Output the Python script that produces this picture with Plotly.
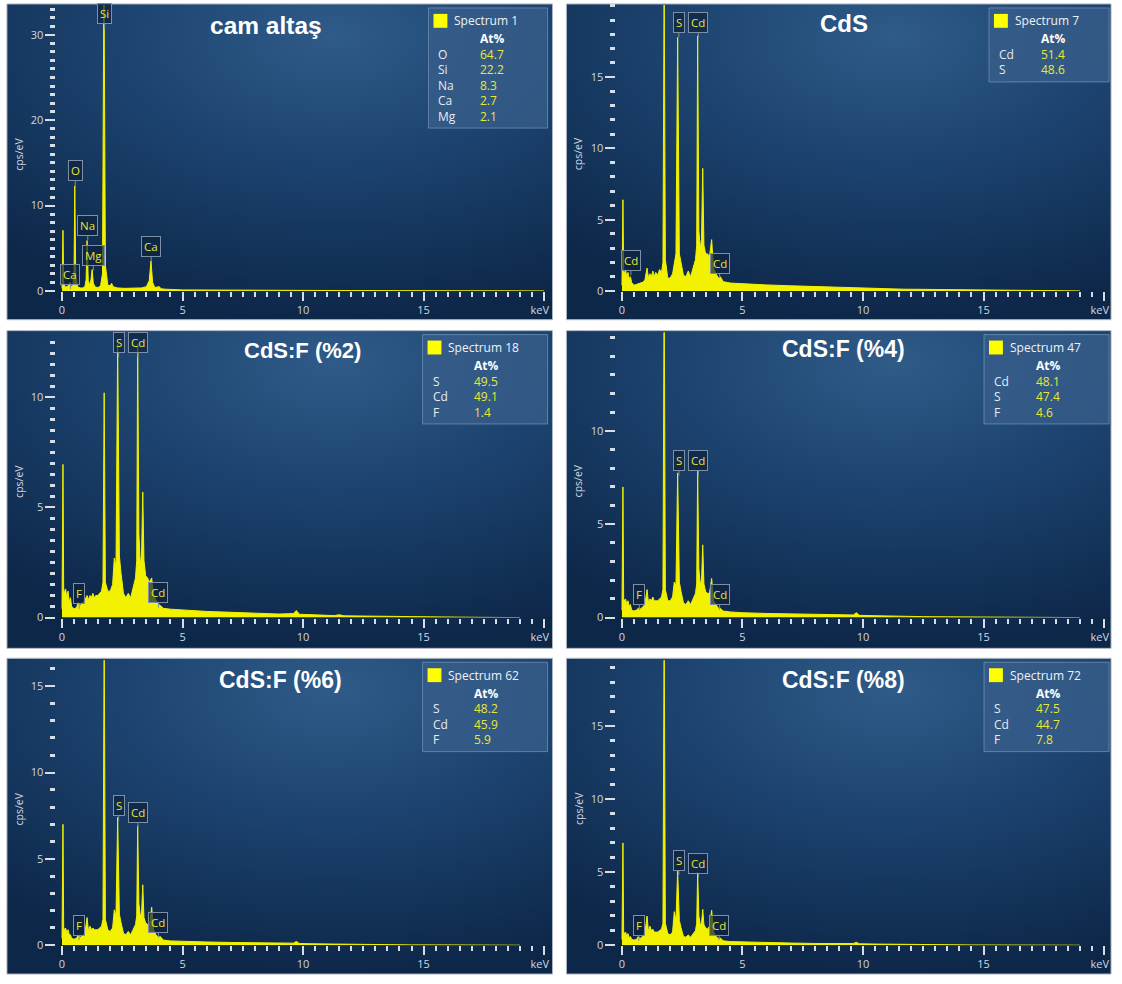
import base64
import plotly.graph_objects as go

W, H = 1122, 984

# ---------------- data ----------------
E_GLASS = [0.0, 0.04, 0.07, 0.12, 0.2, 0.28, 0.33, 0.38, 0.45, 0.5,
           0.53, 0.57, 0.65, 0.75, 0.85, 0.95, 1.0, 1.04, 1.09, 1.15,
           1.2, 1.25, 1.3, 1.38, 1.5, 1.6, 1.68, 1.74, 1.8, 1.9,
           2.0, 2.06, 2.12, 2.3, 2.6, 3.0, 3.3, 3.5, 3.62, 3.69,
           3.76, 3.85, 4.0, 4.04, 4.1, 4.3, 5.0, 6.0, 8.0, 10.0,
           12.0, 14.0, 16.0, 18.0, 20.0]
I_GLASS = [0.3, 7.1, 1.0, 0.5, 0.5, 0.7, 1.0, 0.5, 0.6, 2.0,
           12.3, 1.8, 0.5, 0.35, 0.35, 0.5, 1.3, 5.9, 1.2, 0.7,
           1.3, 2.5, 0.9, 0.45, 0.4, 0.6, 2.0, 38.0, 3.0, 0.7,
           0.6, 0.9, 0.5, 0.35, 0.3, 0.3, 0.35, 0.5, 1.2, 3.5,
           1.0, 0.4, 0.45, 0.5, 0.25, 0.2, 0.12, 0.1, 0.07, 0.05,
           0.04, 0.03, 0.02, 0.01, 0.0]

E_CDS = [0.0, 0.04, 0.07, 0.1, 0.15, 0.2, 0.25, 0.3, 0.35, 0.4,
         0.5, 0.6, 0.68, 0.75, 0.85, 0.95, 1.04, 1.1, 1.16, 1.22,
         1.28, 1.34, 1.4, 1.48, 1.56, 1.64, 1.7, 1.75, 1.8, 1.9,
         2.0, 2.1, 2.17, 2.24, 2.31, 2.38, 2.45, 2.55, 2.65, 2.75,
         2.85, 2.95, 3.05, 3.1, 3.14, 3.19, 3.25, 3.3, 3.35, 3.4,
         3.47, 3.55, 3.63, 3.72, 3.8, 3.9, 4.0, 4.08, 4.2, 4.5,
         5.0, 6.0, 7.0, 8.0, 9.0, 9.6, 9.72, 9.85, 10.5, 11.3,
         11.5, 11.7, 12.5, 13.5, 14.5, 15.5, 16.5, 17.5, 18.2, 19.0]
I_CDS = [0.4, 6.4, 1.4, 1.2, 1.5, 0.9, 1.3, 0.8, 1.0, 0.6,
         0.4, 0.45, 0.5, 0.55, 0.6, 0.75, 1.6, 0.9, 1.2, 1.0,
         1.4, 1.0, 1.3, 1.1, 1.5, 1.3, 2.0, 22.0, 2.2, 0.9,
         0.9, 1.2, 2.0, 2.6, 17.8, 2.6, 2.0, 1.1, 1.0, 1.4,
         1.0, 1.6, 2.2, 3.2, 17.9, 4.2, 3.0, 3.6, 8.6, 3.2,
         2.6, 2.6, 2.4, 3.6, 1.6, 1.2, 0.9, 1.0, 0.65, 0.55,
         0.5, 0.42, 0.36, 0.3, 0.25, 0.22, 0.22, 0.2, 0.18, 0.14,
         0.13, 0.12, 0.11, 0.09, 0.07, 0.05, 0.04, 0.02, 0.01, 0.0]
I_F2 = [0.4, 6.95, 1.3, 1.1, 1.3, 0.9, 1.2, 0.7, 0.9, 0.5,
        0.4, 0.45, 0.7, 0.55, 0.65, 0.8, 1.0, 0.8, 1.0, 0.9,
        1.1, 0.9, 1.0, 1.0, 1.1, 1.2, 1.6, 10.2, 1.6, 1.2,
        1.2, 1.5, 2.7, 2.3, 12.4, 2.8, 2.0, 1.1, 0.9, 1.1,
        0.9, 1.3, 1.8, 2.6, 12.4, 3.8, 2.4, 2.8, 5.7, 2.6,
        1.9, 1.8, 1.6, 1.8, 1.0, 0.8, 0.6, 0.55, 0.42, 0.38,
        0.34, 0.28, 0.24, 0.2, 0.16, 0.18, 0.32, 0.15, 0.12, 0.09,
        0.13, 0.08, 0.07, 0.05, 0.04, 0.03, 0.02, 0.01, 0.005, 0.0]
I_F4 = [0.4, 7.0, 1.0, 0.9, 1.0, 0.7, 0.9, 0.6, 0.7, 0.4,
        0.35, 0.4, 0.5, 0.45, 0.55, 0.7, 1.5, 0.8, 1.0, 0.9,
        1.1, 0.9, 0.9, 0.9, 1.0, 1.1, 1.5, 18.0, 1.5, 0.9,
        0.9, 1.1, 1.9, 1.7, 7.75, 1.9, 1.4, 0.8, 0.7, 0.9,
        0.7, 1.0, 1.3, 1.8, 7.9, 2.6, 1.8, 2.0, 3.9, 1.8,
        1.4, 1.3, 1.3, 2.1, 0.9, 0.7, 0.5, 0.5, 0.35, 0.3,
        0.26, 0.22, 0.19, 0.16, 0.13, 0.14, 0.26, 0.12, 0.1, 0.07,
        0.1, 0.06, 0.05, 0.04, 0.03, 0.02, 0.015, 0.01, 0.005, 0.0]
I_F6 = [0.4, 7.0, 1.0, 0.9, 1.0, 0.7, 0.9, 0.6, 0.6, 0.4,
        0.35, 0.4, 0.6, 0.45, 0.55, 0.7, 1.6, 0.8, 1.1, 0.9,
        1.0, 0.9, 0.9, 0.9, 1.0, 1.1, 1.5, 18.0, 1.5, 0.9,
        0.8, 1.0, 2.05, 1.7, 7.4, 1.8, 1.3, 0.7, 0.6, 0.8,
        0.6, 0.9, 1.2, 1.7, 6.9, 2.4, 1.7, 1.8, 3.5, 1.6,
        1.3, 1.2, 1.2, 2.2, 0.9, 0.6, 0.45, 0.5, 0.3, 0.25,
        0.22, 0.19, 0.16, 0.13, 0.11, 0.12, 0.22, 0.1, 0.08, 0.06,
        0.09, 0.05, 0.04, 0.03, 0.02, 0.02, 0.01, 0.01, 0.005, 0.0]
I_F8 = [0.4, 7.0, 0.9, 0.8, 0.9, 0.6, 0.8, 0.5, 0.6, 0.4,
        0.35, 0.4, 0.6, 0.45, 0.6, 0.8, 2.0, 0.9, 1.3, 1.0,
        1.1, 0.9, 0.9, 0.9, 1.0, 1.1, 1.5, 22.0, 1.5, 0.8,
        0.7, 0.9, 2.3, 1.7, 5.1, 1.7, 1.2, 0.6, 0.55, 0.7,
        0.55, 0.8, 1.0, 1.5, 5.0, 2.0, 1.4, 1.5, 2.45, 1.4,
        1.2, 1.1, 1.3, 2.4, 0.9, 0.6, 0.45, 0.5, 0.3, 0.25,
        0.22, 0.18, 0.15, 0.12, 0.1, 0.12, 0.2, 0.1, 0.08, 0.06,
        0.08, 0.05, 0.04, 0.03, 0.02, 0.015, 0.01, 0.01, 0.005, 0.0]

SPEC_X = [E_GLASS, E_CDS, E_CDS, E_CDS, E_CDS, E_CDS]
SPEC_Y = [I_GLASS, I_CDS, I_F2, I_F4, I_F6, I_F8]

TITLES = ["cam altaş", "CdS", "CdS:F (%2)", "CdS:F (%4)", "CdS:F (%6)", "CdS:F (%8)"]
SPECTRA = ["Spectrum 1", "Spectrum 7", "Spectrum 18", "Spectrum 47", "Spectrum 62", "Spectrum 72"]
ELEMENTS = [["O", "Si", "Na", "Ca", "Mg"], ["Cd", "S"], ["S", "Cd", "F"],
            ["Cd", "S", "F"], ["S", "Cd", "F"], ["S", "Cd", "F"]]
AT_PCT = [["64.7", "22.2", "8.3", "2.7", "2.1"], ["51.4", "48.6"], ["49.5", "49.1", "1.4"],
          ["48.1", "47.4", "4.6"], ["48.2", "45.9", "5.9"], ["47.5", "44.7", "7.8"]]

PEAK_NAMES = [["Ca", "O", "Na", "Mg", "Si", "Ca"],
              ["Cd", "S", "Cd", "Cd"],
              ["F", "S", "Cd", "Cd"],
              ["F", "S", "Cd", "Cd"],
              ["F", "S", "Cd", "Cd"],
              ["F", "S", "Cd", "Cd"]]
PEAK_KEV = [[0.35, 0.55, 1.07, 1.3, 1.77, 3.7],
            [0.37, 2.36, 3.17, 4.05],
            [0.71, 2.35, 3.15, 4.0],
            [0.72, 2.36, 3.17, 4.05],
            [0.71, 2.35, 3.15, 4.0],
            [0.7, 2.36, 3.17, 4.03]]
PEAK_CPS = [[0.2, 12.3, 5.9, 2.4, 30.7, 3.5],
            [1.1, 17.8, 17.8, 0.9],
            [0.4, 11.8, 11.8, 0.45],
            [0.42, 7.6, 7.6, 0.42],
            [0.3, 7.2, 6.8, 0.45],
            [0.3, 4.8, 4.6, 0.35]]

Y_MAX = [33.5, 20.07, 12.93, 15.27, 16.5, 19.5]
Y_MAJOR = [[0, 10, 20, 30], [0, 5, 10, 15], [0, 5, 10], [0, 5, 10], [0, 5, 10, 15], [0, 5, 10, 15]]
Y_MINOR_STEP = [1, 1, 0.5, 1, 1, 1]
X_TICKS = [0, 5, 10, 15, 20]
X_TICKTEXT = ["0", "5", "10", "15", "keV\u00a0\u00a0\u00a0"]
X_MIN, X_MAX = -0.23, 20.2

# ---------------- geometry (pixels) ----------------
COL_X0 = [62.5, 627.0]        # pixel of 0 keV
PX_PER_KEV = 24.3
ROW_Y0 = [293, 622, 952]      # pixel of 0 cps/eV
ROW_TOP = [5, 335, 665]
PANEL_X = [(7, 557), (571, 1120)]
PANEL_Y = [(4, 322), (333, 653), (663, 981)]
TITLE_POS = [(268, 26), (851, 24), (305, 353), (850, 352), (283, 685), (850, 685)]
TITLE_SIZE = [24.5, 24, 22, 23, 23, 23]
LEG_RIGHT = [552, 1118]
LEG_W = [120, 121, 126, 126, 126, 126]
LEG_FONT = 12


def fx(px):
    return px / W


def fy(py):
    return 1 - py / H


def glow_uri(w, h):
    svg = (f"<svg xmlns='http://www.w3.org/2000/svg' width='{w}' height='{h}' "
           f"viewBox='0 0 {w} {h}' preserveAspectRatio='none'><defs>"
           "<radialGradient id='g' cx='0.6' cy='0.1' r='0.9' fx='0.6' fy='0.1'>"
           "<stop offset='0' stop-color='#2f5b88'/>"
           "<stop offset='0.45' stop-color='#1c436f'/>"
           "<stop offset='1' stop-color='#0d2749'/>"
           "</radialGradient></defs>"
           f"<rect width='{w}' height='{h}' fill='url(#g)'/></svg>")
    return "data:image/svg+xml;base64," + base64.b64encode(svg.encode()).decode()


fig = go.Figure()
shapes, annotations, images = [], [], []
layout = {}

TICK_COLOR = "#d6dde6"
LABEL_COLOR = "#d0d8e2"
FONT = "Open Sans, Noto Sans, sans-serif"

for i in range(6):
    r, c = divmod(i, 2)
    n = i + 1
    sfx = "" if n == 1 else str(n)
    x0 = COL_X0[c]
    left_px = x0 + X_MIN * PX_PER_KEV
    right_px = x0 + X_MAX * PX_PER_KEV

    fig.add_trace(go.Scatter(
        x=SPEC_X[i], y=SPEC_Y[i], mode="lines",
        line=dict(color="#f2f200", width=1),
        fill="tozeroy", fillcolor="#f2f200",
        xaxis="x" + sfx, yaxis="y" + sfx, showlegend=False, hoverinfo="skip"))

    minor_x = [k * 0.5 for k in range(0, 41) if (k * 0.5) % 5 != 0]
    step = Y_MINOR_STEP[i]
    nmin = int(Y_MAX[i] / step) + 1
    minor_y = [k * step for k in range(0, nmin) if (k * step) not in Y_MAJOR[i]]

    layout["xaxis" + sfx] = dict(
        domain=[fx(left_px), fx(right_px)], range=[X_MIN, X_MAX], anchor="y" + sfx,
        showgrid=False, zeroline=False, showline=False,
        tickmode="array", tickvals=X_TICKS, ticktext=X_TICKTEXT,
        ticks="outside", ticklen=9, tickwidth=2, tickcolor=TICK_COLOR,
        tickfont=dict(size=11, color=LABEL_COLOR, family=FONT),
        minor=dict(tickmode="array", tickvals=minor_x, ticks="outside",
                   ticklen=5, tickwidth=2, tickcolor=TICK_COLOR, showgrid=False),
        fixedrange=True)
    layout["yaxis" + sfx] = dict(
        domain=[fy(ROW_Y0[r]), fy(ROW_TOP[r])], range=[0, Y_MAX[i]], anchor="x" + sfx,
        showgrid=False, zeroline=False, showline=False,
        tickmode="array", tickvals=Y_MAJOR[i],
        ticks="outside", ticklen=10, tickwidth=2, tickcolor=TICK_COLOR,
        tickfont=dict(size=11, color=LABEL_COLOR, family=FONT),
        minor=dict(tickmode="array", tickvals=minor_y, ticks="outside",
                   ticklen=5, tickwidth=3, tickcolor=TICK_COLOR, showgrid=False),
        fixedrange=True)

    # panel background + frame
    pl, pr = PANEL_X[c]
    pt, pb = PANEL_Y[r]
    images.append(dict(source=glow_uri(pr - pl, pb - pt), xref="paper", yref="paper",
                       x=fx(pl), y=fy(pt), sizex=(pr - pl) / W, sizey=(pb - pt) / H,
                       xanchor="left", yanchor="top", sizing="stretch", layer="below"))
    shapes.append(dict(type="rect", xref="paper", yref="paper",
                       x0=fx(pl), x1=fx(pr), y0=fy(pb), y1=fy(pt),
                       line=dict(color="#a9b3bf", width=1), fillcolor="rgba(0,0,0,0)",
                       layer="below"))

    # title
    tx, ty = TITLE_POS[i]
    annotations.append(dict(x=fx(tx), y=fy(ty), xref="paper", yref="paper",
                            text="<b>" + TITLES[i] + "</b>", showarrow=False,
                            xanchor="center", yanchor="middle",
                            font=dict(size=TITLE_SIZE[i], color="#ffffff",
                                      family="Liberation Sans, Arial, sans-serif")))
    # y axis title
    annotations.append(dict(x=fx(pl + 12), y=fy((ROW_TOP[r] + ROW_Y0[r]) / 2 + 6),
                            xref="paper", yref="paper", text="cps/eV", textangle=-90,
                            showarrow=False, xanchor="center", yanchor="middle",
                            font=dict(size=10.5, color=LABEL_COLOR, family=FONT)))

    # legend box
    nrow = len(ELEMENTS[i])
    L = LEG_RIGHT[c] - LEG_W[i]
    R = LEG_RIGHT[c]
    T = pt + 4
    B = T + 47 + 15.5 * (nrow - 1) + 12
    shapes.append(dict(type="rect", xref="paper", yref="paper",
                       x0=fx(L), x1=fx(R), y0=fy(B), y1=fy(T),
                       fillcolor="rgba(58,96,140,0.72)",
                       line=dict(color="rgba(120,150,185,0.7)", width=1), layer="above"))
    shapes.append(dict(type="rect", xref="paper", yref="paper",
                       x0=fx(L + 5), x1=fx(L + 19), y0=fy(T + 20), y1=fy(T + 6),
                       fillcolor="#ffff00", line=dict(width=0), layer="above"))
    annotations.append(dict(x=fx(L + 24), y=fy(T + 13), xref="paper", yref="paper",
                            text=SPECTRA[i], showarrow=False, xanchor="left", yanchor="middle",
                            font=dict(size=LEG_FONT, color="#eef2f6", family=FONT)))
    annotations.append(dict(x=fx(L + 50), y=fy(T + 31), xref="paper", yref="paper",
                            text="<b>At%</b>", showarrow=False, xanchor="left", yanchor="middle",
                            font=dict(size=LEG_FONT, color="#ffffff", family=FONT)))
    for k in range(nrow):
        yy = T + 47 + 15.5 * k
        annotations.append(dict(x=fx(L + 8), y=fy(yy), xref="paper", yref="paper",
                                text=ELEMENTS[i][k], showarrow=False, xanchor="left",
                                yanchor="middle",
                                font=dict(size=LEG_FONT, color="#e6ebf0", family=FONT)))
        annotations.append(dict(x=fx(L + 50), y=fy(yy), xref="paper", yref="paper",
                                text=AT_PCT[i][k], showarrow=False, xanchor="left",
                                yanchor="middle",
                                font=dict(size=LEG_FONT, color="#e8e83a", family=FONT)))

    # peak labels
    for name, kev, cps in zip(PEAK_NAMES[i], PEAK_KEV[i], PEAK_CPS[i]):
        annotations.append(dict(x=kev, y=cps, xref="x" + sfx, yref="y" + sfx,
                                text=name, showarrow=True, arrowhead=0, arrowwidth=1,
                                arrowcolor="#7f90a6", ax=0, ay=-15,
                                bgcolor="rgba(14,34,62,0.7)", bordercolor="#7f90a6",
                                borderwidth=1, borderpad=2,
                                font=dict(size=11.5, color="#e4e43a", family=FONT)))

fig.update_layout(
    width=W, height=H, margin=dict(l=0, r=0, t=0, b=0),
    paper_bgcolor="#ffffff", plot_bgcolor="rgba(0,0,0,0)",
    shapes=shapes, annotations=annotations, images=images,
    showlegend=False, **layout)

fig.write_html("out.html")
